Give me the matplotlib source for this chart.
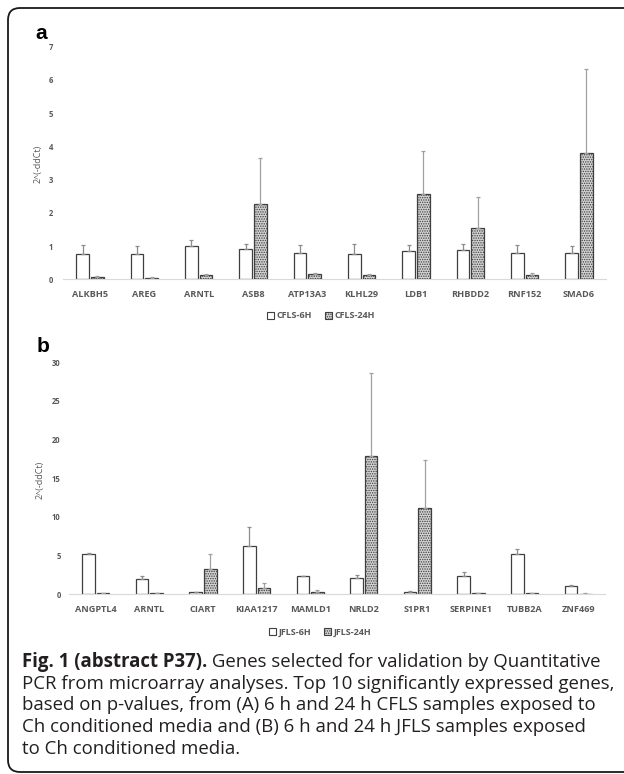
import matplotlib
matplotlib.use("Agg")
import matplotlib.pyplot as plt
import numpy as np
from matplotlib.patches import FancyBboxPatch, Patch

plt.rcParams['hatch.color'] = '#6a6a6a'
plt.rcParams['hatch.linewidth'] = 0.7

# ---------------- data ----------------
genes_a = ["ALKBH5", "AREG", "ARNTL", "ASB8", "ATP13A3", "KLHL29", "LDB1", "RHBDD2", "RNF152", "SMAD6"]
a_6h = [0.77, 0.77, 0.99, 0.90, 0.79, 0.75, 0.85, 0.88, 0.79, 0.79]
a_6h_err = [0.26, 0.22, 0.20, 0.15, 0.25, 0.31, 0.18, 0.18, 0.25, 0.20]
a_24h = [0.06, 0.05, 0.12, 2.27, 0.16, 0.13, 2.56, 1.54, 0.13, 3.79]
a_24h_err = [0.03, 0.02, 0.05, 1.37, 0.04, 0.02, 1.31, 0.94, 0.05, 2.54]
legend_a = ["CFLS-6H", "CFLS-24H"]
yticks_a = [0, 1, 2, 3, 4, 5, 6, 7]

genes_b = ["ANGPTL4", "ARNTL", "CIART", "KIAA1217", "MAMLD1", "NRLD2", "S1PR1", "SERPINE1", "TUBB2A", "ZNF469"]
b_6h = [5.24, 1.93, 0.26, 6.23, 2.32, 2.10, 0.30, 2.36, 5.24, 1.03]
b_6h_err = [0.16, 0.47, 0.04, 2.45, 0.03, 0.40, 0.09, 0.48, 0.60, 0.22]
b_24h = [0.17, 0.17, 3.27, 0.86, 0.34, 17.88, 11.20, 0.17, 0.17, 0.08]
b_24h_err = [0.05, 0.03, 1.89, 0.64, 0.16, 10.70, 6.16, 0.04, 0.04, 0.03]
legend_b = ["JFLS-6H", "JFLS-24H"]
yticks_b = [0, 5, 10, 15, 20, 25, 30]

ylabel = "2^(-ddCt)"
caption_bold = "Fig. 1 (abstract P37)."
caption_lines = [
    " Genes selected for validation by Quantitative",
    "PCR from microarray analyses. Top 10 significantly expressed genes,",
    "based on p-values, from (A) 6 h and 24 h CFLS samples exposed to",
    "Ch conditioned media and (B) 6 h and 24 h JFLS samples exposed",
    "to Ch conditioned media.",
]

# ---------------- figure ----------------
W, H = 624, 774
fig = plt.figure(figsize=(W / 100, H / 100), dpi=100)
fig.patch.set_facecolor('white')

def fx(px):
    return px / W

def fy(py):
    return 1 - py / H

GRAY = '#595959'
EDGE = '#3f3f3f'
ERR = '#8c8c8c'
FILL24 = '#d4d4d4'
TFONT = ['Open Sans', 'DejaVu Sans']


def panel(rect, genes, v6, e6, v24, e24, yticks, labels, legend_xy, ylabel_xy, ypad):
    l, r, b, t = rect
    ax = fig.add_axes([fx(l), fy(b), fx(r) - fx(l), fy(t) - fy(b)])
    x = np.arange(len(genes))
    w = 0.235
    off = 0.135
    z6 = np.zeros(len(genes))
    ax.bar(x - off, v6, w, color='white', edgecolor=EDGE, linewidth=0.9,
           yerr=[z6, e6], error_kw=dict(ecolor=ERR, elinewidth=0.9, capsize=1.6, capthick=0.9),
           label=labels[0], zorder=2)
    ax.bar(x + off, v24, w, color=FILL24, edgecolor=EDGE, linewidth=0.9, hatch='.......',
           yerr=[z6, e24], error_kw=dict(ecolor='#a0a0a0', elinewidth=0.9, capsize=1.6, capthick=0.9),
           label=labels[1], zorder=2)
    ax.set_xlim(-0.5, len(genes) - 0.5)
    ax.set_ylim(yticks[0], yticks[-1])
    ax.set_yticks(yticks)
    ax.set_yticklabels([str(v) for v in yticks], fontsize=5.5, color=GRAY, fontweight='bold', family=TFONT)
    ax.set_xticks(x)
    ax.set_xticklabels(genes, fontsize=6.6, color=GRAY, fontweight='bold', family=TFONT)
    ax.tick_params(axis='both', length=0)
    ax.tick_params(axis='x', pad=7.5)
    ax.tick_params(axis='y', pad=ypad)
    for s in ['top', 'right', 'left']:
        ax.spines[s].set_visible(False)
    ax.spines['bottom'].set_color('#d9d9d9')
    ax.spines['bottom'].set_linewidth(0.8)
    ax.set_facecolor('none')
    fig.text(fx(ylabel_xy[0]), fy(ylabel_xy[1]), ylabel, rotation=90, ha='center', va='center',
             fontsize=6.5, color=GRAY, family=TFONT)
    h1 = Patch(facecolor='white', edgecolor=EDGE, linewidth=0.8)
    h2 = Patch(facecolor=FILL24, edgecolor=EDGE, linewidth=0.8, hatch='.......')
    leg = ax.legend([h1, h2], labels, loc='center', bbox_to_anchor=(fx(legend_xy[0]), fy(legend_xy[1])),
                    bbox_transform=fig.transFigure, ncol=2, frameon=False, handlelength=0.75,
                    handleheight=0.9, handletextpad=0.3, columnspacing=1.4,
                    prop=dict(family=TFONT, size=6.5, weight='bold'))
    for tx in leg.get_texts():
        tx.set_color(GRAY)
    return ax

panel((63, 606, 279.3, 46.5), genes_a, a_6h, a_6h_err, a_24h, a_24h_err, yticks_a, legend_a,
      (321, 316), (38, 164), 7)
panel((69, 605, 594.3, 362.3), genes_b, b_6h, b_6h_err, b_24h, b_24h_err, yticks_b, legend_b,
      (320, 632), (40, 480), 6)

# panel letters
fig.text(fx(35), fy(39), "a", fontsize=15, fontweight='bold', family=['Liberation Sans', 'DejaVu Sans'],
         ha='left', va='baseline', color='black')
fig.text(fx(37), fy(352), "b", fontsize=15, fontweight='bold', family=['Liberation Sans', 'DejaVu Sans'],
         ha='left', va='baseline', color='black')

# rounded border
box = FancyBboxPatch((8 / 100, (H - 772) / 100), (660 - 8) / 100, (772 - 8) / 100,
                     boxstyle="round,pad=0,rounding_size=0.12", transform=fig.dpi_scale_trans,
                     facecolor='none', edgecolor='#1a1a1a', linewidth=1.3, clip_on=False)
fig.add_artist(box)

# caption
renderer = fig.canvas.get_renderer()
cap_color = '#231f20'
cap_size = 12.5
x0 = 22
baselines = [667, 688.7, 710.3, 732, 753.7]
target_w = 604 - x0

def line1_width(size):
    t1 = fig.text(0, 0, caption_bold, fontsize=size, fontweight='bold', family=TFONT)
    t2 = fig.text(0, 0, caption_lines[0], fontsize=size, family=TFONT)
    w1 = t1.get_window_extent(renderer).width
    w2 = t2.get_window_extent(renderer).width
    t1.remove(); t2.remove()
    return w1 + w2

wcur = line1_width(cap_size)
cap_size = cap_size * target_w / wcur

tb = fig.text(fx(x0), fy(baselines[0]), caption_bold, fontsize=cap_size, fontweight='bold',
              family=TFONT, color=cap_color, ha='left', va='baseline')
wb = tb.get_window_extent(renderer).width
fig.text(fx(x0 + wb), fy(baselines[0]), caption_lines[0], fontsize=cap_size, family=TFONT,
         color=cap_color, ha='left', va='baseline')
for line, yb in zip(caption_lines[1:], baselines[1:]):
    fig.text(fx(x0), fy(yb), line, fontsize=cap_size, family=TFONT, color=cap_color,
             ha='left', va='baseline')

fig.savefig("out.png", dpi=100)
